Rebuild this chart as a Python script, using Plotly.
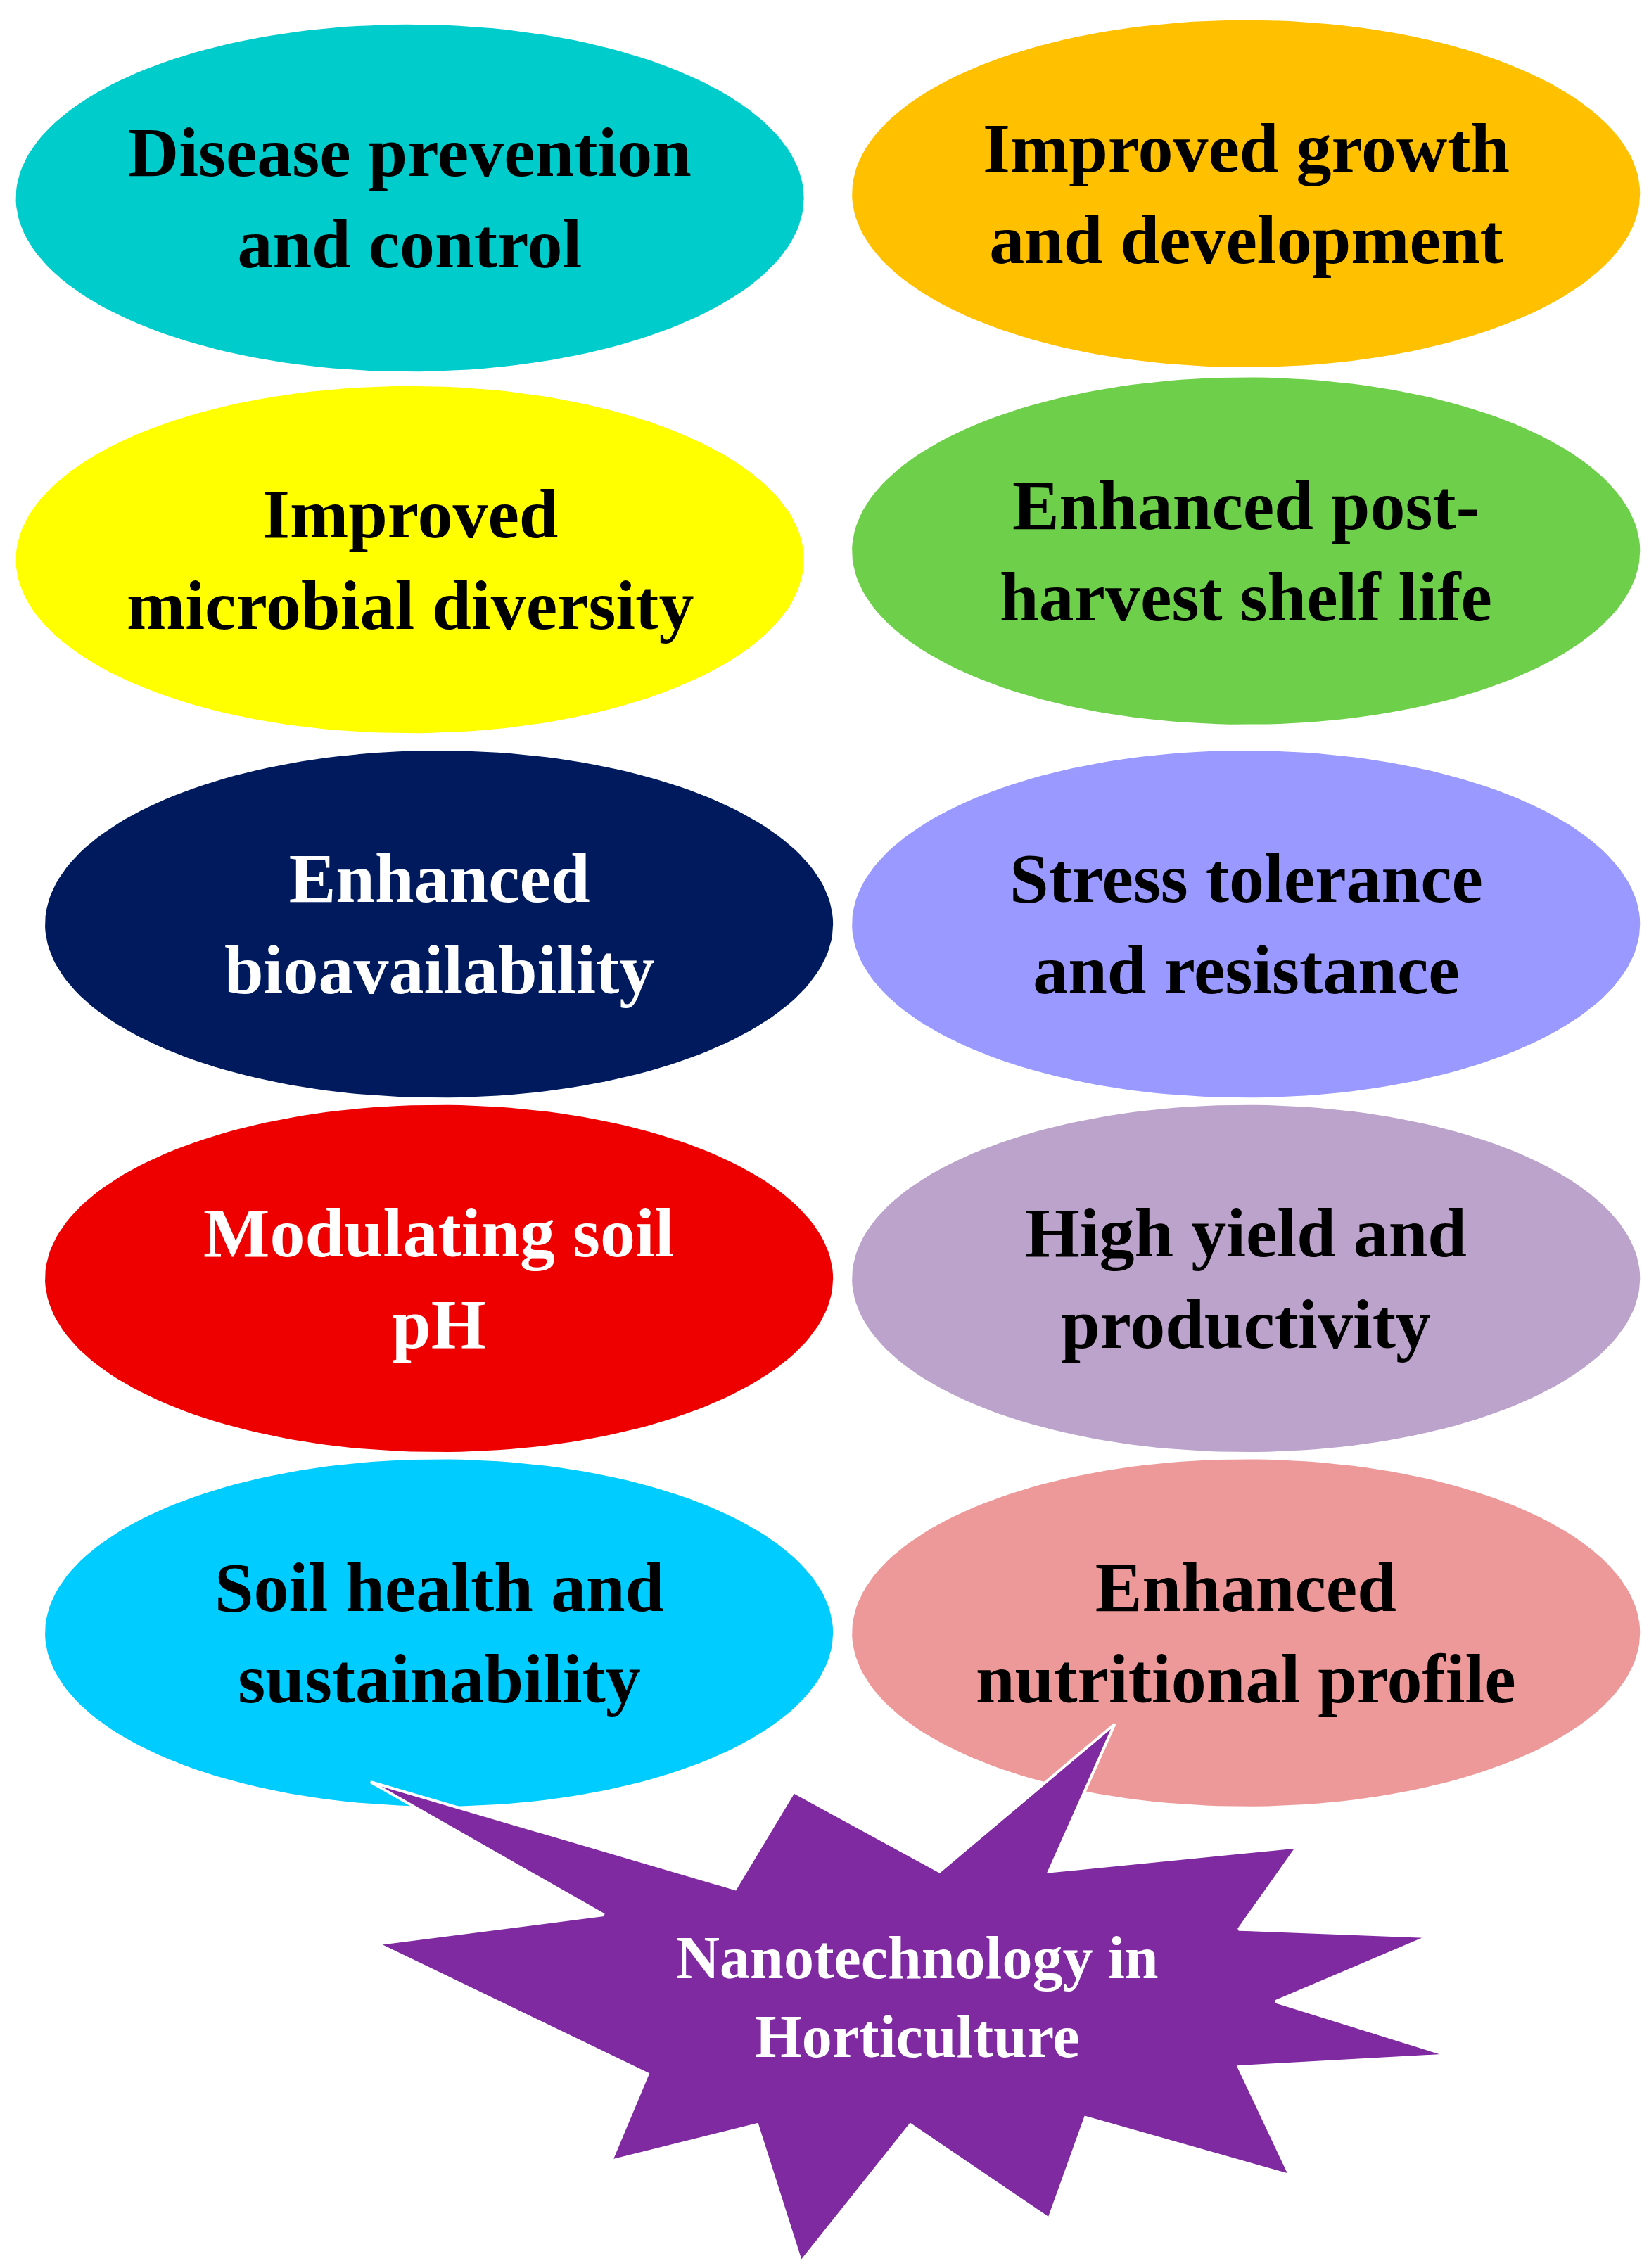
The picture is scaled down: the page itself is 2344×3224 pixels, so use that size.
import numpy as np
import plotly.graph_objects as go

# bubble labels and placement (picture units, 1130 x 1568, y downwards)
labels = ["Disease prevention<br>and control", "Improved growth<br>and development",
          "Improved<br>microbial diversity", "Enhanced post-<br>harvest shelf life",
          "Enhanced<br>bioavailability", "Stress tolerance<br>and resistance",
          "Modulating soil<br>pH", "High yield and<br>productivity",
          "Soil health and<br>sustainability", "Enhanced<br>nutritional profile"]
cx = [277, 850, 277, 850, 297, 850, 297, 850, 297, 850]
cy = [133, 130, 383, 377, 635, 635, 880, 880, 1125, 1125]
rx = [270, 270, 270, 270, 270, 270, 270, 270, 270, 270]
ry = [120, 120, 120, 120, 120, 120, 120, 120, 120, 120]
fills = ["#00CCCC", "#FFC000", "#FFFF00", "#6ED04A", "#001A5E",
         "#9999FF", "#EE0000", "#BBA3CC", "#00CCFF", "#EE9999"]
text_col = ["black", "black", "black", "black", "white",
            "black", "white", "black", "black", "black"]

star_x = [250, 500, 540, 640, 760, 715, 885, 845, 975, 870, 988, 845, 880, 740, 715, 620, 545, 515, 415, 440, 255, 410]
star_y = [1228, 1302, 1235, 1290, 1188, 1290, 1273, 1330, 1335, 1380, 1417, 1425, 1500, 1460, 1530, 1465, 1560, 1465, 1490, 1430, 1340, 1320]
star_label = "Nanotechnology in<br>Horticulture"

fig = go.Figure()
t = np.linspace(0, 2 * np.pi, 200)
for i in range(len(labels)):
    fig.add_trace(go.Scatter(x=cx[i] + rx[i] * np.cos(t), y=cy[i] + ry[i] * np.sin(t),
                             mode="lines", fill="toself", fillcolor=fills[i],
                             line=dict(width=0), hoverinfo="skip"))
    fig.add_annotation(x=cx[i], y=cy[i], text="<b>" + labels[i] + "</b>", showarrow=False,
                       font=dict(family="Liberation Serif", size=100, color=text_col[i]))

fig.add_trace(go.Scatter(x=star_x + [star_x[0]], y=star_y + [star_y[0]], mode="lines",
                         fill="toself", fillcolor="#7F2AA0",
                         line=dict(width=4, color="white"), hoverinfo="skip"))
fig.add_annotation(x=625, y=1377, text="<b>" + star_label + "</b>", showarrow=False,
                   font=dict(family="Liberation Serif", size=86, color="white"))

fig.update_layout(width=2344, height=3224, margin=dict(l=0, r=0, t=0, b=0),
                  showlegend=False, plot_bgcolor="white", paper_bgcolor="white")
fig.update_xaxes(range=[0, 1130], visible=False)
fig.update_yaxes(range=[1568, 0], visible=False)
fig.write_html("out.html")
